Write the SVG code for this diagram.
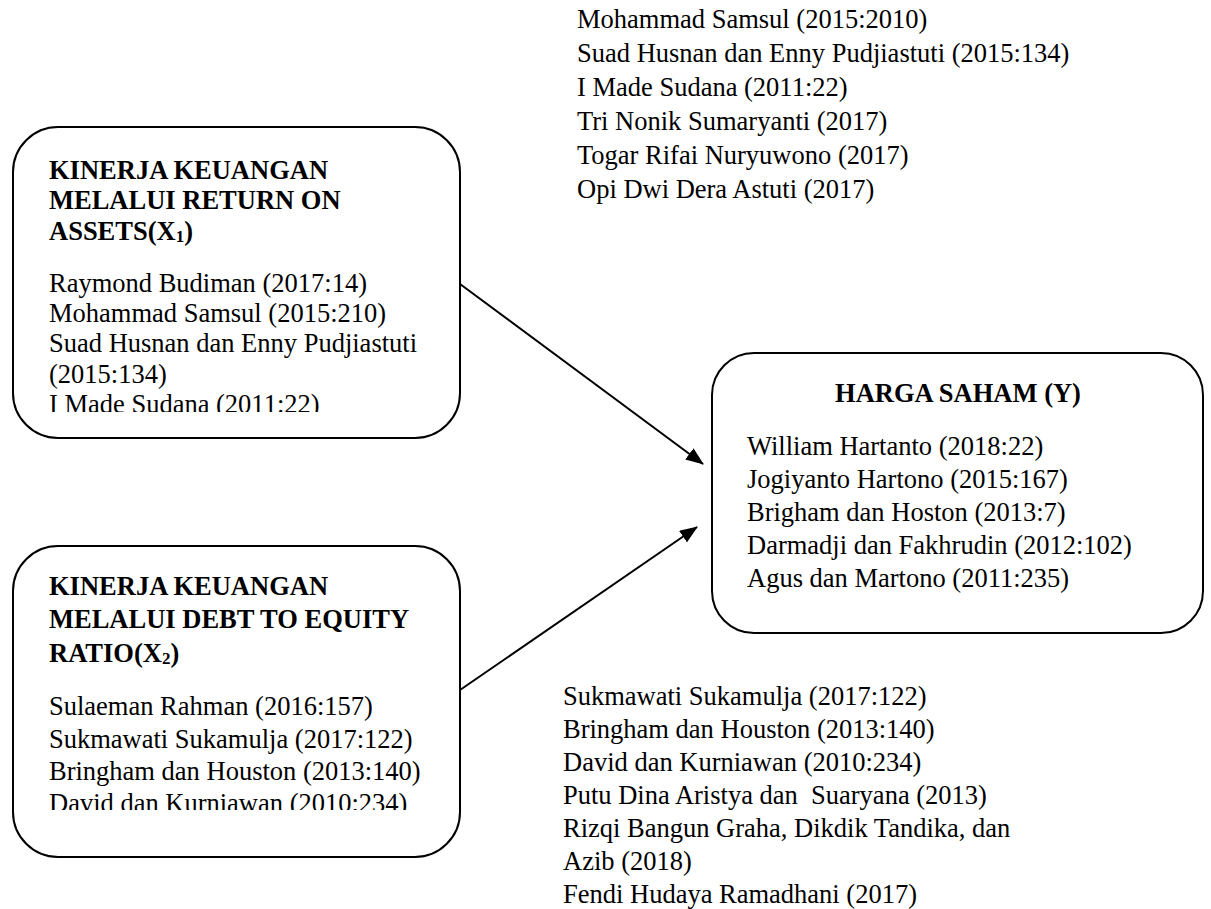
<svg xmlns="http://www.w3.org/2000/svg" width="1211" height="909" viewBox="0 0 1211 909">
<style>
  text { font-family: "Liberation Serif", "Times New Roman", serif; font-size: 26.5px; fill: #000; }
  .b { font-weight: bold; }
  .box { fill: #fff; stroke: #000; stroke-width: 2; }
  .conn { stroke: #000; stroke-width: 2; fill: none; }
</style>
<defs>
  <marker id="arr" viewBox="0 0 18 14" markerWidth="18" markerHeight="14" refX="17" refY="7" orient="auto" markerUnits="userSpaceOnUse">
    <path d="M0,0 L18,7 L0,14 z" fill="#000"/>
  </marker>
  <clipPath id="c1"><rect x="13" y="127" width="447" height="285"/></clipPath>
  <clipPath id="c2"><rect x="13" y="546" width="447" height="264"/></clipPath>
</defs>
<rect width="1211" height="909" fill="#fff"/>

<g id="refs-top">
  <text x="577" y="28">Mohammad Samsul (2015:2010)</text>
  <text x="577" y="62">Suad Husnan dan Enny Pudjiastuti (2015:134)</text>
  <text x="577" y="96">I Made Sudana (2011:22)</text>
  <text x="577" y="130">Tri Nonik Sumaryanti (2017)</text>
  <text x="577" y="164">Togar Rifai Nuryuwono (2017)</text>
  <text x="577" y="198">Opi Dwi Dera Astuti (2017)</text>
</g>

<g id="node-x1">
  <rect class="box" x="13" y="127" width="447" height="311" rx="45" ry="45"/>
  <g clip-path="url(#c1)">
    <text class="b" x="49" y="179">KINERJA KEUANGAN</text>
    <text class="b" x="49" y="209">MELALUI RETURN ON</text>
    <text class="b" x="49" y="240">ASSETS(X<tspan font-size="17" dy="2">1</tspan><tspan dy="-2">)</tspan></text>
    <text x="49" y="292">Raymond Budiman (2017:14)</text>
    <text x="49" y="322">Mohammad Samsul (2015:210)</text>
    <text x="49" y="352">Suad Husnan dan Enny Pudjiastuti</text>
    <text x="49" y="383">(2015:134)</text>
    <text x="49" y="413">I Made Sudana (2011:22)</text>
  </g>
</g>

<g id="node-x2">
  <rect class="box" x="13" y="546" width="447" height="311" rx="45" ry="45"/>
  <g clip-path="url(#c2)">
    <text class="b" x="49" y="595">KINERJA KEUANGAN</text>
    <text class="b" x="49" y="628">MELALUI DEBT TO EQUITY</text>
    <text class="b" x="49" y="662">RATIO(X<tspan font-size="17" dy="2">2</tspan><tspan dy="-2">)</tspan></text>
    <text x="49" y="715">Sulaeman Rahman (2016:157)</text>
    <text x="49" y="748">Sukmawati Sukamulja (2017:122)</text>
    <text x="49" y="780">Bringham dan Houston (2013:140)</text>
    <text x="49" y="812">David dan Kurniawan (2010:234)</text>
  </g>
</g>

<g id="node-y">
  <rect class="box" x="712" y="353" width="491" height="280" rx="42" ry="42"/>
  <text class="b" x="958" y="402" text-anchor="middle">HARGA SAHAM (Y)</text>
  <text x="747" y="455">William Hartanto (2018:22)</text>
  <text x="747" y="488">Jogiyanto Hartono (2015:167)</text>
  <text x="747" y="521">Brigham dan Hoston (2013:7)</text>
  <text x="747" y="554">Darmadji dan Fakhrudin (2012:102)</text>
  <text x="747" y="587">Agus dan Martono (2011:235)</text>
</g>

<g id="refs-bottom">
  <text x="563" y="705">Sukmawati Sukamulja (2017:122)</text>
  <text x="563" y="738">Bringham dan Houston (2013:140)</text>
  <text x="563" y="771">David dan Kurniawan (2010:234)</text>
  <text x="563" y="804" xml:space="preserve">Putu Dina Aristya dan  Suaryana (2013)</text>
  <text x="563" y="837">Rizqi Bangun Graha, Dikdik Tandika, dan</text>
  <text x="563" y="870">Azib (2018)</text>
  <text x="563" y="903">Fendi Hudaya Ramadhani (2017)</text>
</g>

<g id="connectors">
  <line class="conn" x1="460" y1="284" x2="703" y2="464" marker-end="url(#arr)"/>
  <line class="conn" x1="460" y1="690" x2="697" y2="527" marker-end="url(#arr)"/>
</g>
</svg>
